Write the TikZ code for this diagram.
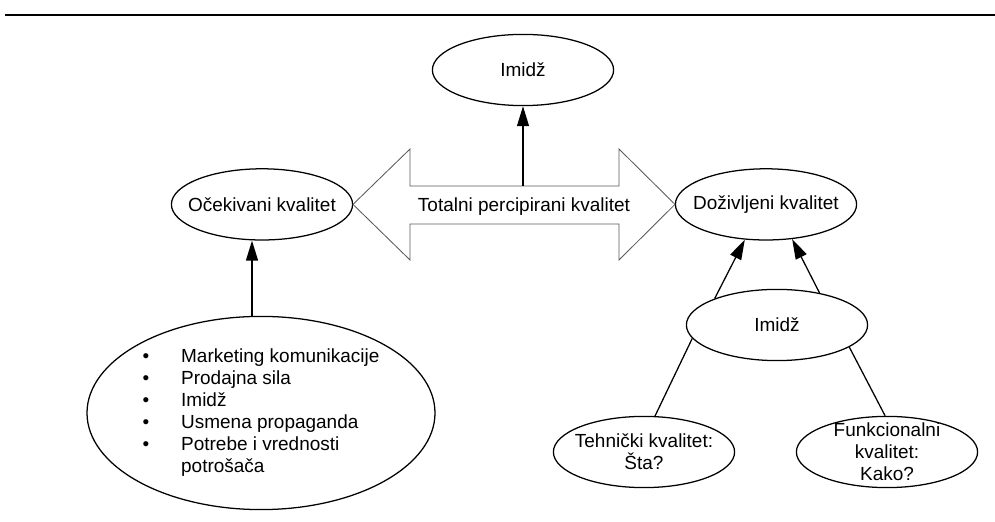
\documentclass[tikz,border=0pt]{standalone}
\usepackage{fontspec}
\setmainfont{Liberation Sans}
\usetikzlibrary{shapes.geometric,arrows.meta}
\begin{document}
\begin{tikzpicture}[font=\fontsize{13.5pt}{15.6pt}\selectfont,
  oval/.style={draw, ellipse, line width=0.9pt, minimum width=4.53cm, minimum height=1.78cm,
    inner sep=0pt, label={[align=center]center:#1}},
  pijl/.style={line width=0.9pt, -{Triangle[length=5mm,width=3mm]}}]
  \useasboundingbox (0,0) rectangle (24.875,13.05);
  \draw[line width=1.4pt] (0.125,12.675) -- (24.875,12.675);

  \node[oval=Imidž] (imidz) at (13.075,11.3) {};
  \node[oval=Očekivani kvalitet] (ocek) at (6.55,7.94) {};
  \node[oval=Doživljeni kvalitet] (doziv) at (19.15,7.94) {};
  \node[oval=Imidž] (imidz2) at (19.425,4.925) {};
  \node[oval={Tehnički kvalitet:\\Šta?}] (tehn) at (16.1,1.75) {};
  \node[oval={Funkcionalni\\kvalitet:\\Kako?}] (funk) at (22.175,1.75) {};
  \node[draw, ellipse, line width=0.9pt, minimum width=8.7cm, minimum height=4.83cm, inner sep=0pt]
    (izvori) at (6.525,2.725) {%
    \begin{tabular}{@{}l@{\hspace{0.8cm}}l@{}}
      \textbullet & Marketing komunikacije\\
      \textbullet & Prodajna sila\\
      \textbullet & Imidž\\
      \textbullet & Usmena propaganda\\
      \textbullet & Potrebe i vrednosti\\
                  & potrošača
    \end{tabular}};

  \draw[gray!70!black, line width=0.6pt] (8.825,7.94) -- (10.25,9.325) -- (10.25,8.4) -- (15.475,8.4)
    -- (15.475,9.325) -- (16.875,7.94) -- (15.475,6.55) -- (15.475,7.45) -- (10.25,7.45)
    -- (10.25,6.55) -- cycle;
  \node (totalni) at (13.1,7.89) {Totalni percipirani kvalitet};

  \coordinate (vrh) at (13.075,8.4);
  \coordinate (os) at (6.3,0);
  \draw[pijl] (vrh) -- (imidz.south);
  \draw[pijl] (izvori.north -| os) -- (ocek.south -| os);
  \draw[pijl] (imidz2.157) -- (doziv.-121);
  \draw[pijl] (imidz2.37) -- (doziv.-53);
  \draw[line width=0.9pt] (imidz2.-171) -- (tehn.73);
  \draw[line width=0.9pt] (imidz2.-17) -- (funk.93);
\end{tikzpicture}
\end{document}
